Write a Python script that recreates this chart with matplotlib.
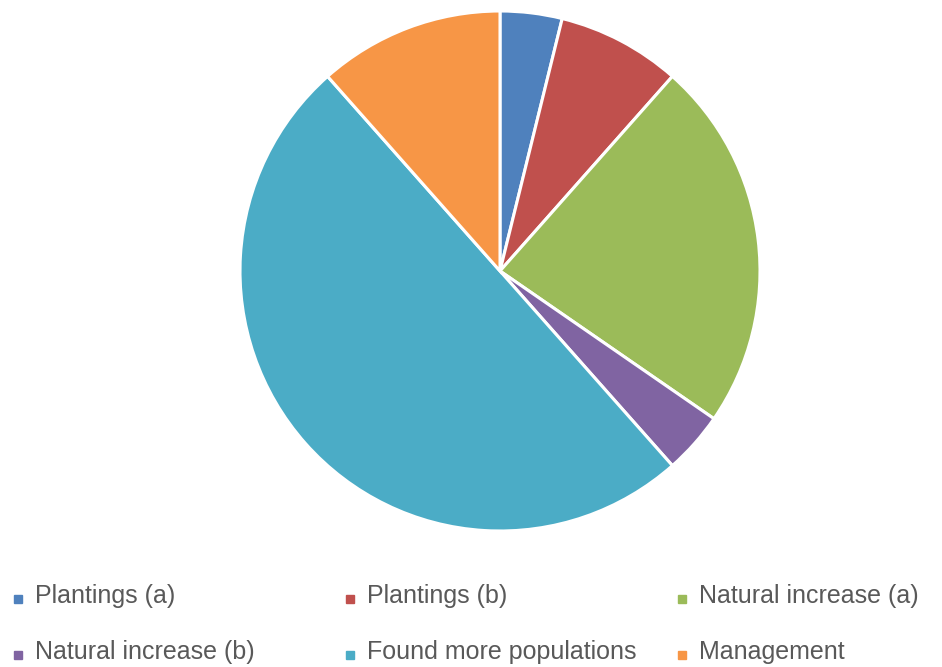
import matplotlib.pyplot as plt
from matplotlib.lines import Line2D

# data (counts out of 26)
labels = ["Plantings (a)", "Plantings (b)", "Natural increase (a)",
          "Natural increase (b)", "Found more populations", "Management"]
values = [1, 2, 6, 1, 13, 3]
colors = ["#4F81BD", "#C0504D", "#9BBB59", "#8064A2", "#4BACC6", "#F79646"]

plt.rcParams['font.family'] = ['Liberation Sans', 'DejaVu Sans']

W, H = 942, 667
fig = plt.figure(figsize=(W / 100, H / 100), dpi=100)
ax = fig.add_axes([240 / W, 1 - 531 / H, 520 / W, 520 / H])
ax.pie(values, colors=colors, startangle=90, counterclock=False,
       wedgeprops=dict(edgecolor="white", linewidth=2.2))
ax.set_xlim(-1.0, 1.0)
ax.set_ylim(-1.0, 1.0)
ax.set_aspect("equal")

# legend: 3 columns x 2 rows, placed in pixel positions
col_x = [18, 350, 682]
row_y = [599, 655]
for i, (lab, c) in enumerate(zip(labels, colors)):
    x = col_x[i % 3]
    y = row_y[i // 3]
    fig.add_artist(Line2D([x / W], [1 - y / H], marker="s", markersize=5.5,
                          markerfacecolor=c, markeredgecolor=c,
                          transform=fig.transFigure))
    fig.text((x + 17) / W, 1 - (y + 4) / H, lab, fontsize=18,
             color="#595959", ha="left", va="baseline")

fig.savefig("out.png", dpi=100)
